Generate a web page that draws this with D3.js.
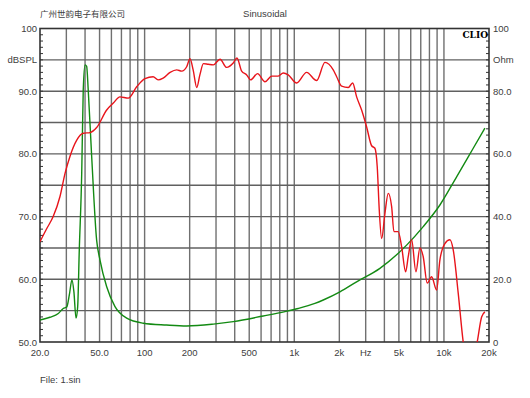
<!DOCTYPE html>
<html>
<head>
<meta charset="utf-8">
<script src="https://cdn.jsdelivr.net/npm/d3@7"></script>
<style>
    body { margin: 0; background: #fff; }
    text { font-family: "Liberation Sans", Arial, sans-serif; font-size: 9.5px; fill: #404040; }
</style>
</head>
<body>
<div id="chart"></div>
<script>
// SPL curve (red)
var splFreq = [20, 22.2, 24.5, 27.2, 29.4, 31.7, 35.2, 38.9, 43.2, 47.8, 55.8, 61.8, 68.4, 77.8, 88.5,
    100.6, 114, 123, 133, 148, 164, 177, 191, 201, 211, 223, 234, 247, 266, 288, 319, 353, 391, 414,
    445, 481, 511, 568, 637, 706, 781, 844, 911, 1037, 1209, 1411, 1603, 1821, 1919, 2072, 2294,
    2454, 2610, 2818, 3044, 3288, 3458, 3582, 3696, 3834, 4034, 4244, 4472, 4632, 4948, 5214, 5546,
    5772, 6082, 6498, 6910, 7270, 7732, 8272, 8934, 9398, 10150, 10962, 11534, 12454, 13450, 14800,
    16680, 17852, 18776];
var splDb = [66.0, 68.1, 70.0, 73.2, 76.9, 79.6, 82.2, 83.3, 83.4, 84.2, 87.0, 88.1, 89.1, 88.9, 90.7,
    92.0, 92.3, 91.8, 92.1, 93.0, 93.4, 93.2, 93.9, 95.2, 93.4, 90.6, 92.6, 94.4, 94.3, 94.2, 95.1, 93.8, 94.5, 95.3,
    93.2, 92.6, 91.8, 92.8, 91.5, 92.4, 92.4, 92.9, 92.6, 91.3, 93.0, 91.7, 94.6, 93.4, 92.3, 90.8, 90.6,
    91.3, 89.1, 87.0, 84.3, 81.3, 80.9, 78.0, 71.1, 66.5, 70.5, 73.7, 71.6, 67.6, 67.6, 65.2, 61.2,
    63.6, 66.3, 61.2, 65.0, 63.6, 59.4, 60.4, 58.3, 63.1, 65.7, 66.3, 64.7, 57.8, 50.0, 45.0,
    50.0, 54.0, 54.8];

// impedance curve (green)
var impFreq = [20, 23.3, 26.5, 28.6, 30.2, 31.4, 32.7, 33.7, 34.8, 35.7, 36.6, 38.0, 38.9, 40.0, 41.0,
    42.0, 44.3, 47.8, 50.3, 55.8, 63.4, 75.9, 98, 140, 191, 288, 391, 620, 866, 1063, 1374, 1562,
    2018, 2610, 3734, 5632, 7270, 9398, 12152, 15692, 18776];
var impOhm = [7.0, 7.9, 9.1, 10.7, 11.2, 15.0, 19.8, 16.0, 7.6, 11.2, 29.3, 53.8, 80.4, 88.4, 87.9,
    80.4, 59.1, 32.5, 26.2, 17.6, 11.3, 7.6, 6.0, 5.4, 5.1, 5.7, 6.5, 8.3, 9.7, 10.7, 12.3, 13.4,
    16.0, 19.2, 23.5, 30.9, 36.8, 43.7, 52.7, 61.8, 68.2];

var xTicks = [20, 50, 100, 200, 500, 1000, 2000, 3000, 5000, 10000, 20000];
var xTickLabels = ["20.0", "50.0", "100", "200", "500", "1k", "2k", "Hz", "5k", "10k", "20k"];
var leftTicks = [100, 95, 90, 80, 70, 60, 50];
var leftTickLabels = ["100", "dBSPL", "90.0", "80.0", "70.0", "60.0", "50.0"];
var rightTicks = [100, 90, 80, 60, 40, 20, 0];
var rightTickLabels = ["100", "Ohm", "80.0", "60.0", "40.0", "20.0", "0"];

var margin = { top: 28.5, right: 41, bottom: 56, left: 40 },
    width = 530 - margin.left - margin.right,
    height = 398 - margin.top - margin.bottom;

var x = d3.scaleLog().domain([20, 20000]).range([0, width]);
var y = d3.scaleLinear().domain([50, 100]).range([height, 0]);
var y2 = d3.scaleLinear().domain([0, 100]).range([height, 0]);

var svg = d3.select("#chart").append("svg")
    .attr("width", 530)
    .attr("height", 398);

svg.append("text").attr("x", 40).attr("y", 17).text("广州世韵电子有限公司")
    .style("font-family", "'Noto Sans CJK SC', sans-serif").style("font-size", "8.5px");
svg.append("text").attr("x", 265).attr("y", 17).attr("text-anchor", "middle").text("Sinusoidal");
svg.append("text").attr("x", 40).attr("y", 383).text("File: 1.sin");

var g = svg.append("g")
    .attr("transform", "translate(" + margin.left + "," + margin.top + ")");

g.append("clipPath").attr("id", "plot")
    .append("rect").attr("width", width).attr("height", height);

// grid
var vGrid = [];
[10, 100, 1000, 10000].forEach(function(d) {
    for (var k = 1; k < 10; k++) {
        var f = d * k;
        if (f > 20 && f < 20000) vGrid.push(f);
    }
});
g.selectAll(".vgrid").data(vGrid).enter().append("line")
    .attr("x1", function(d) { return x(d); }).attr("x2", function(d) { return x(d); })
    .attr("y1", 0).attr("y2", height)
    .attr("stroke", "#707070").attr("stroke-width", 1.4);
g.selectAll(".hgrid").data(d3.range(55, 100, 5)).enter().append("line")
    .attr("x1", 0).attr("x2", width)
    .attr("y1", function(d) { return y(d); }).attr("y2", function(d) { return y(d); })
    .attr("stroke", "#606060").attr("stroke-width", 1.4);

// minor ticks
g.selectAll(".ltick").data(d3.range(51, 100, 1)).enter().append("line")
    .attr("x1", 0).attr("x2", 3)
    .attr("y1", function(d) { return y(d); }).attr("y2", function(d) { return y(d); })
    .attr("stroke", "#333");
g.selectAll(".rtick").data(d3.range(2, 100, 2)).enter().append("line")
    .attr("x1", width - 3).attr("x2", width)
    .attr("y1", function(d) { return y2(d); }).attr("y2", function(d) { return y2(d); })
    .attr("stroke", "#333");

g.append("rect").attr("width", width).attr("height", height)
    .attr("fill", "none").attr("stroke", "#333").attr("stroke-width", 1.6);

// curves
var lineSpl = d3.line()
    .x(function(d) { return x(d[0]); })
    .y(function(d) { return y(d[1]); })
    .curve(d3.curveMonotoneX);
var lineImp = d3.line()
    .x(function(d) { return x(d[0]); })
    .y(function(d) { return y2(d[1]); })
    .curve(d3.curveMonotoneX);

g.append("path")
    .datum(d3.zip(impFreq, impOhm))
    .attr("clip-path", "url(#plot)")
    .attr("fill", "none").attr("stroke", "#138a13").attr("stroke-width", 1.4)
    .attr("d", lineImp);
g.append("path")
    .datum(d3.zip(splFreq, splDb))
    .attr("clip-path", "url(#plot)")
    .attr("fill", "none").attr("stroke", "#e8141b").attr("stroke-width", 1.4)
    .attr("d", lineSpl);

// tick labels
g.selectAll(".xlab").data(xTicks).enter().append("text")
    .attr("x", function(d) { return x(d); })
    .attr("y", height + 14)
    .attr("text-anchor", "middle")
    .text(function(d, i) { return xTickLabels[i]; });
g.selectAll(".ylab").data(leftTicks).enter().append("text")
    .attr("x", -3)
    .attr("y", function(d) { return y(d) + 3.5; })
    .attr("text-anchor", "end")
    .text(function(d, i) { return leftTickLabels[i]; });
g.selectAll(".y2lab").data(rightTicks).enter().append("text")
    .attr("x", width + 4)
    .attr("y", function(d) { return y2(d) + 3.5; })
    .text(function(d, i) { return rightTickLabels[i]; });

g.append("text").attr("x", width - 1).attr("y", 9)
    .attr("text-anchor", "end")
    .style("font-family", "'DejaVu Serif', serif").style("font-weight", "bold")
    .style("font-size", "9px").style("fill", "#000")
    .text("CLIO");
</script>
</body>
</html>
